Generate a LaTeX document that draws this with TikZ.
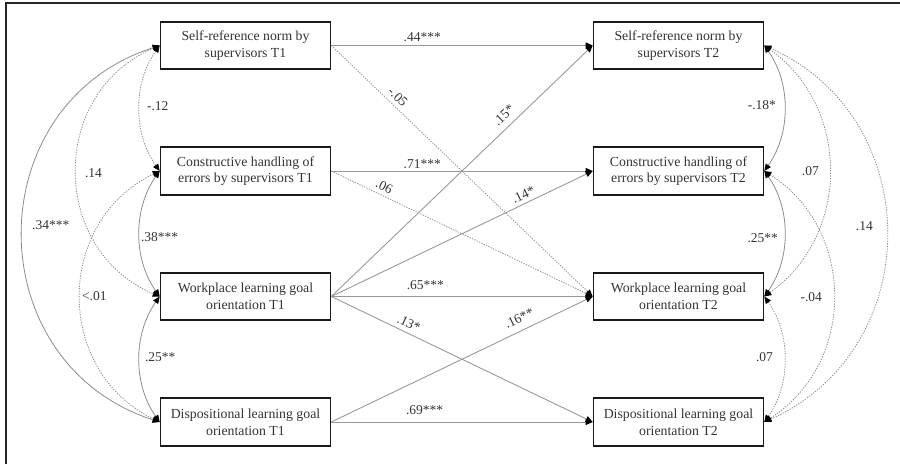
\documentclass[tikz,border=0pt]{standalone}
\usepackage{fontspec}
\setmainfont{Liberation Serif}
\usetikzlibrary{arrows.meta}
\begin{document}
\begin{tikzpicture}[x=1pt,y=-1pt,
  var/.style={draw=black!90, line width=1.6pt, minimum width=170pt, minimum height=47.5pt,
    inner sep=0pt, align=center, text=black!80, font=\fontsize{13.8}{16.6}\selectfont},
  lbl/.style={inner sep=0pt, text=black!80, font=\fontsize{13.5}{16}\selectfont},
  mytip/.tip={Triangle[length=7pt,width=6pt,color=black]},
  reg/.style={draw=black!40, line width=0.9pt, -mytip},
  nsreg/.style={reg, dash pattern=on 1.3pt off 1.3pt},
  cov/.style={draw=black!45, line width=0.8pt, mytip-mytip},
  ncov/.style={cov, dash pattern=on 1.3pt off 1.3pt}]
\useasboundingbox (0,0) rectangle (900,464);
\draw[line width=2pt, black!85] (6,464) -- (6,2.5) -- (900,2.5);

% variables
\node[var] (sr1) at (245.5,45.5) {Self-reference norm by\\supervisors T1};
\node[var] (ch1) at (245.5,171) {Constructive handling of\\errors by supervisors T1};
\node[var] (wl1) at (245.5,296.5) {Workplace learning goal\\orientation T1};
\node[var] (di1) at (245.5,422) {Dispositional learning goal\\orientation T1};
\node[var] (sr2) at (678.5,45.5) {Self-reference norm by\\supervisors T2};
\node[var] (ch2) at (678.5,171) {Constructive handling of\\errors by supervisors T2};
\node[var] (wl2) at (678.5,296.5) {Workplace learning goal\\orientation T2};
\node[var] (di2) at (678.5,422) {Dispositional learning goal\\orientation T2};

% regression paths
\draw[nsreg] (sr1.east) -- (wl2.west) node[lbl, pos=0.231, sloped, above=4pt] {-.05};
\draw[nsreg] (ch1.east) -- (wl2.west) node[lbl, pos=0.188, sloped, above=4pt] {.06};
\draw[reg] (sr1.east) -- (sr2.west) node[lbl, pos=0.348, above=3.5pt] {.44***};
\draw[reg] (ch1.east) -- (ch2.west) node[lbl, pos=0.348, above=2pt] {.71***};
\draw[reg] (wl1.east) -- (wl2.west) node[lbl, pos=0.36, above=6pt] {.65***};
\draw[reg] (di1.east) -- (di2.west) node[lbl, pos=0.357, above=6.5pt] {.69***};
\draw[reg] (wl1.east) -- (sr2.west) node[lbl, pos=0.69, sloped, above=6.5pt] {.15*};
\draw[reg] (wl1.east) -- (ch2.west) node[lbl, pos=0.749, sloped, above=3.5pt] {.14*};
\draw[reg] (wl1.east) -- (di2.west) node[lbl, pos=0.281, sloped, above=4.5pt] {.13*};
\draw[reg] (di1.east) -- (wl2.west) node[lbl, pos=0.739, sloped, above=7pt] {.16**};

% covariances T1
\draw[ncov] (sr1.west) .. controls +(-26.7,37.6) and +(-26.7,-37.6) .. (ch1.west)
  node[lbl, pos=0.5, right=7pt, yshift=2.5pt] {-.12};
\draw[cov] (ch1.west) .. controls +(-26.7,37.6) and +(-26.7,-37.6) .. (wl1.west)
  node[lbl, pos=0.5, right=1pt, yshift=-3pt] {.38***};
\draw[cov] (wl1.west) .. controls +(-26.7,37.6) and +(-26.7,-37.6) .. (di1.west)
  node[lbl, pos=0.5, right=5pt, yshift=2.5pt] {.25**};
\draw[ncov] (sr1.west) .. controls +(-110.7,47.1) and +(-110.7,-47.1) .. (wl1.west)
  node[lbl, pos=0.5, right=8pt, yshift=-1.7pt] {.14};
\draw[ncov] (ch1.west) .. controls +(-105.4,50.6) and +(-105.4,-50.6) .. (di1.west)
  node[lbl, pos=0.5, right=1pt] {<.01};
\draw[cov] (sr1.west) .. controls +(-182.6,59) and +(-182.6,-59) .. (di1.west)
  node[lbl, pos=0.5, right=9pt, yshift=8.75pt] {.34***};

% covariances T2
\draw[cov] (sr2.east) .. controls +(26.7,37.6) and +(26.7,-37.6) .. (ch2.east)
  node[lbl, pos=0.5, left=8pt, yshift=3pt] {-.18*};
\draw[cov] (ch2.east) .. controls +(26.7,37.6) and +(26.7,-37.6) .. (wl2.east)
  node[lbl, pos=0.5, left=6pt, yshift=-4pt] {.25**};
\draw[ncov] (wl2.east) .. controls +(26.7,37.6) and +(26.7,-37.6) .. (di2.east)
  node[lbl, pos=0.5, left=11pt, yshift=2.5pt] {.07};
\draw[ncov] (sr2.east) .. controls +(86.6,61.2) and +(86.6,-61.2) .. (wl2.east)
  node[lbl, pos=0.5, left=10pt] {.07};
\draw[ncov] (ch2.east) .. controls +(92,58.3) and +(92,-58.3) .. (di2.east)
  node[lbl, pos=0.5, left=11pt, yshift=-1pt] {-.04};
\draw[ncov] (sr2.east) .. controls +(162.6,72.7) and +(162.6,-72.7) .. (di2.east)
  node[lbl, pos=0.5, left=13pt, yshift=7.75pt] {.14};
\end{tikzpicture}
\end{document}
